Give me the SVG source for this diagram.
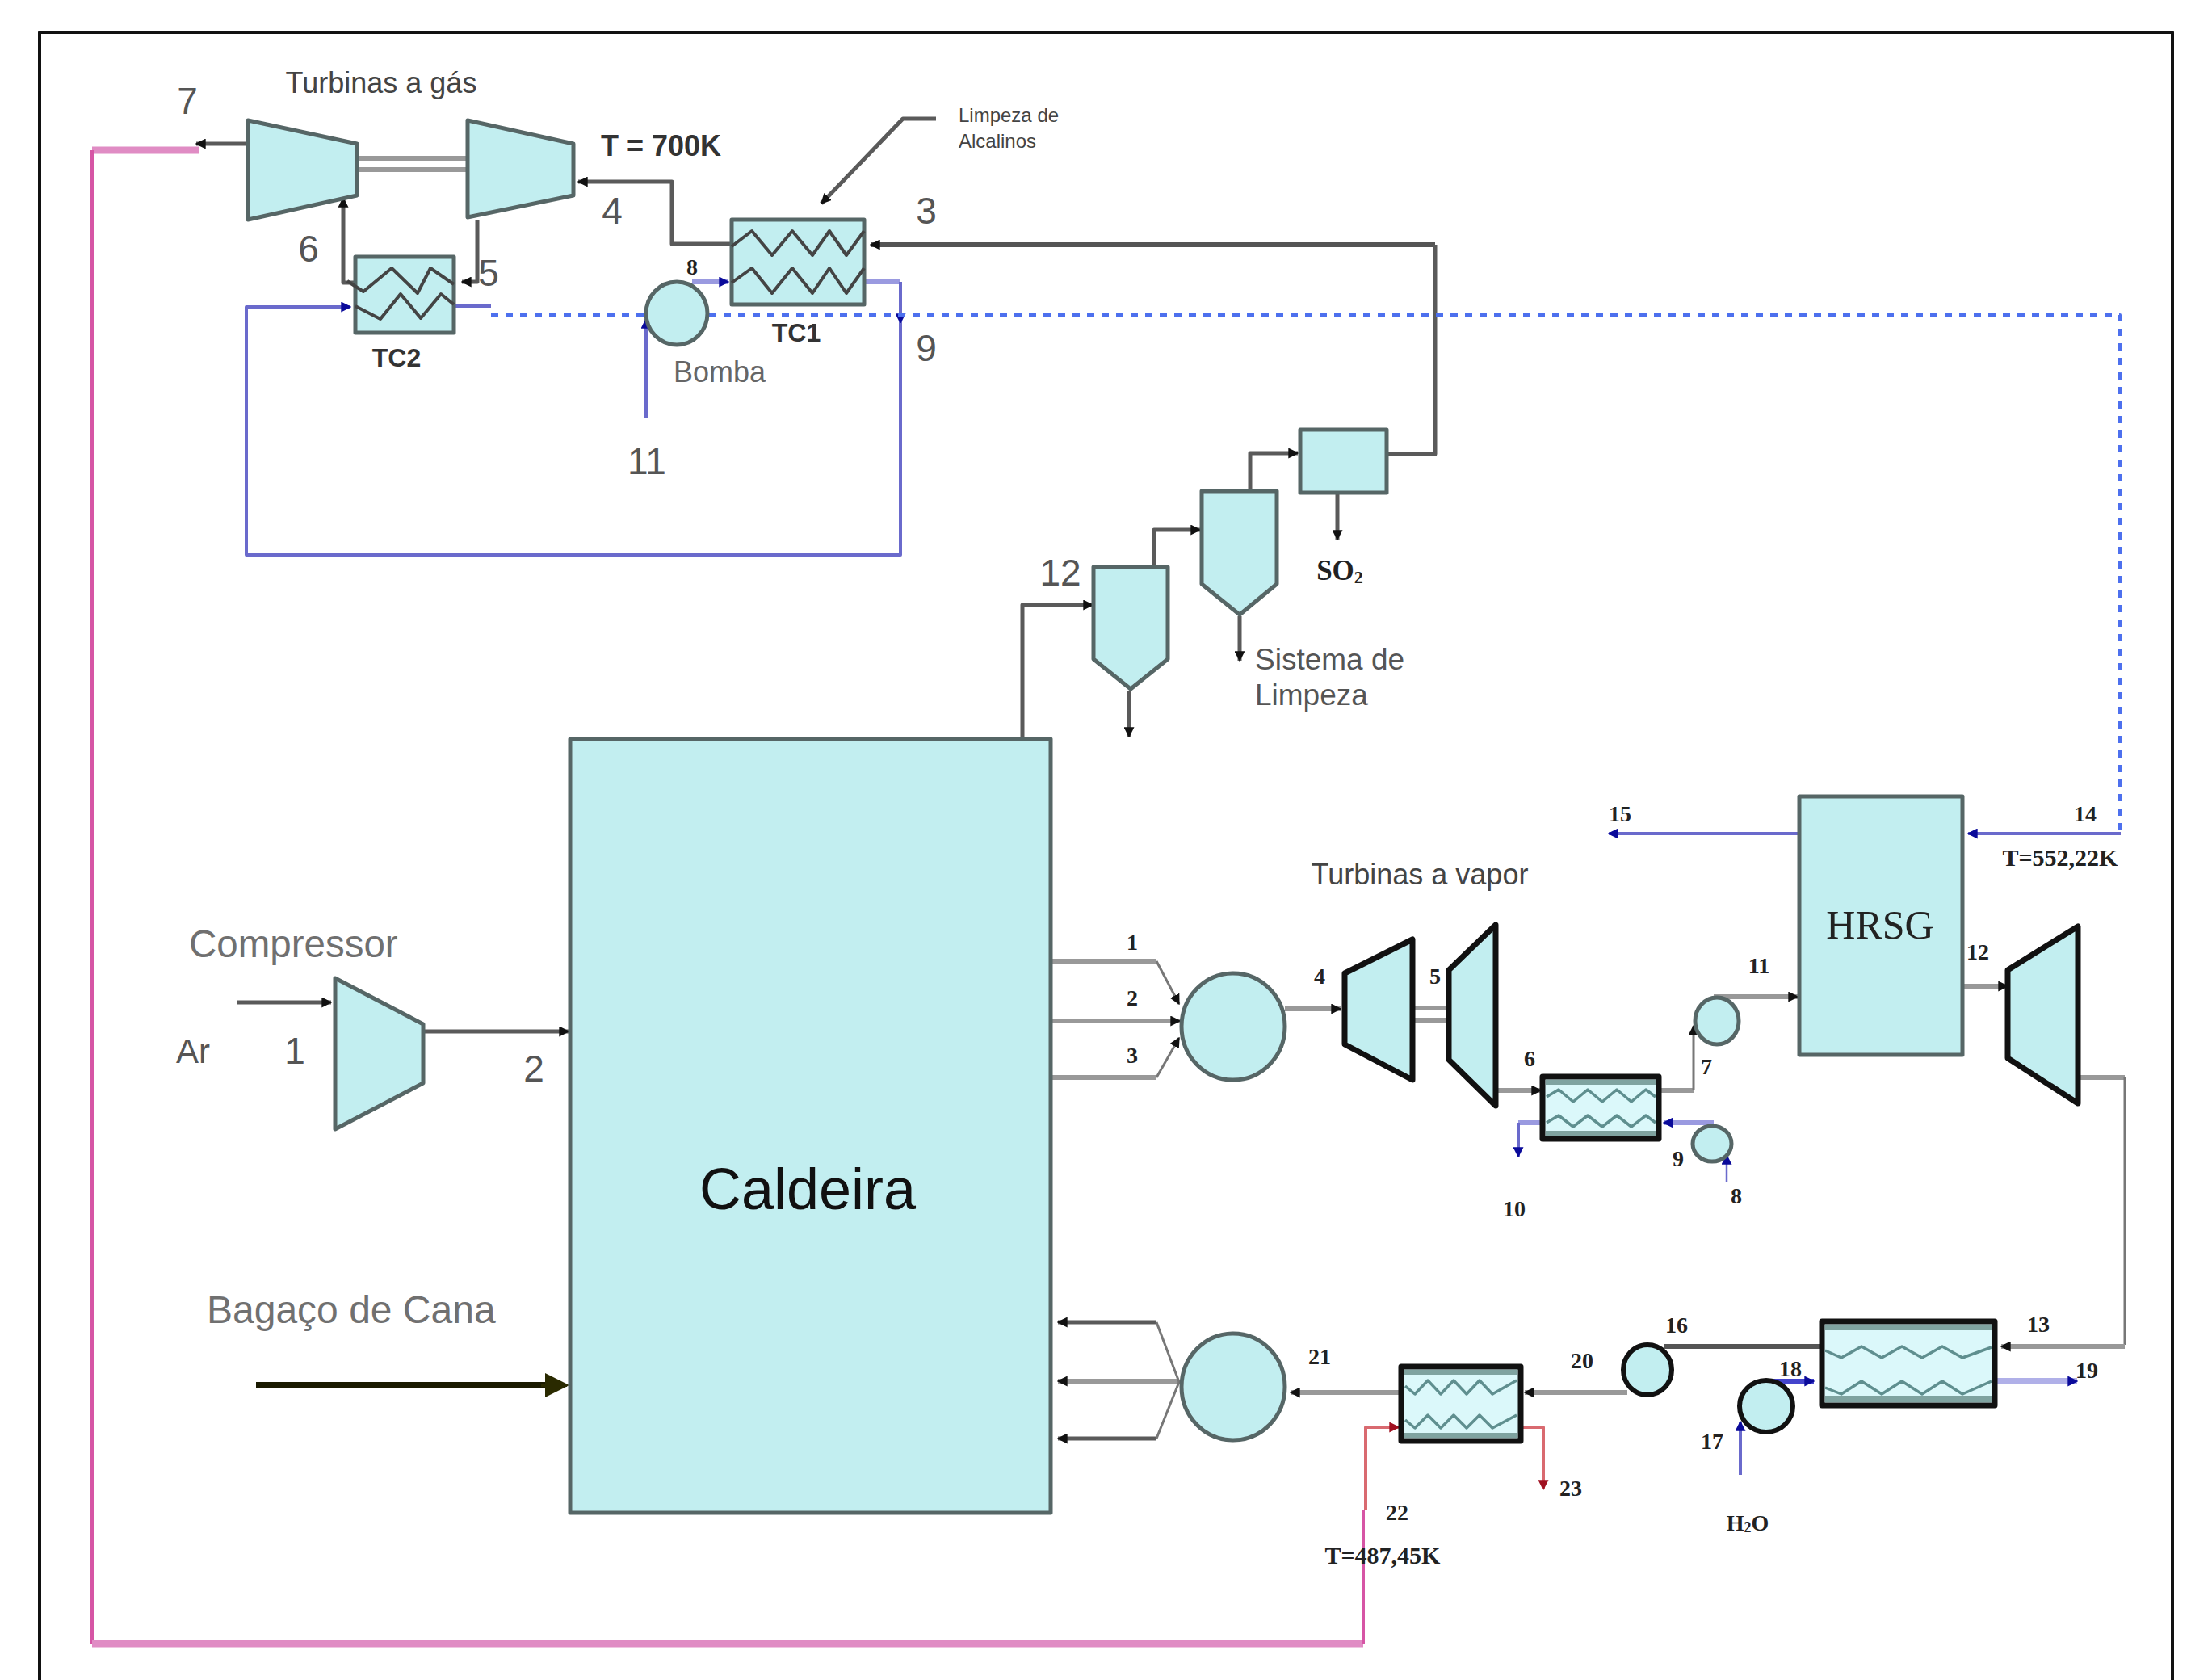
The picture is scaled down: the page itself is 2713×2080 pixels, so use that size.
<svg xmlns="http://www.w3.org/2000/svg" width="2713" height="2080" viewBox="0 0 2713 2080">
<defs>
<marker id="ak" viewBox="0 0 10 10" refX="9" refY="5" markerWidth="13" markerHeight="13" markerUnits="userSpaceOnUse" orient="auto"><path d="M0 0L10 5L0 10z" fill="#111"/></marker>
<marker id="ab" viewBox="0 0 10 10" refX="9" refY="5" markerWidth="13" markerHeight="13" markerUnits="userSpaceOnUse" orient="auto"><path d="M0 0L10 5L0 10z" fill="#0a0a9a"/></marker>
<marker id="ar" viewBox="0 0 10 10" refX="9" refY="5" markerWidth="13" markerHeight="13" markerUnits="userSpaceOnUse" orient="auto"><path d="M0 0L10 5L0 10z" fill="#a01020"/></marker>
<marker id="ao" viewBox="0 0 10 10" refX="9" refY="5" markerWidth="30" markerHeight="30" markerUnits="userSpaceOnUse" orient="auto"><path d="M0 0L10 5L0 10z" fill="#2a2a00"/></marker>
</defs>
<style>
path,polygon,polyline,rect{stroke-linejoin:round}
.eq{fill:#c2eef0;stroke:#566666;stroke-width:5}
.hx{fill:#dbf8fa;stroke:#111;stroke-width:7}
.bt{fill:#c2eef0;stroke:#111;stroke-width:7}
.bp{fill:#c2eef0;stroke:#111;stroke-width:6}
.strip{fill:#7fa3a0;stroke:none}
.z{fill:none;stroke:#444;stroke-width:4}
.w{fill:none;stroke:#5f8f8f;stroke-width:3.5}
.g{fill:none;stroke:#5a5a5a;stroke-width:5}
.gt{fill:none;stroke:#777;stroke-width:3}
.gw{fill:none;stroke:#999;stroke-width:6}
.gd{fill:none;stroke:#555;stroke-width:6}
.b{fill:none;stroke:#6a6acc;stroke-width:4}
.bw{fill:none;stroke:#9a9ae0;stroke-width:6}
.bd{fill:none;stroke:#4d70ee;stroke-width:4;stroke-dasharray:9 9}
.p{fill:none;stroke:#d655a5;stroke-width:4}
.pw{fill:none;stroke:#e08cc4;stroke-width:9}
.r{fill:none;stroke:#d96a70;stroke-width:4}
.s{fill:#444;stroke:none;font-family:"Liberation Sans",Arial,sans-serif}
.m{fill:#707070;stroke:none;font-family:"Liberation Sans",Arial,sans-serif}
.t{fill:#222;stroke:none;font-family:"Liberation Serif","Times New Roman",serif;font-weight:bold;font-size:28px;text-anchor:middle;dominant-baseline:central}
.n{fill:#555;stroke:none;font-family:"Liberation Sans",Arial,sans-serif;font-size:46px;text-anchor:middle;dominant-baseline:central}
.c{text-anchor:middle;dominant-baseline:central}
</style>
<rect width="2713" height="2080" fill="#fff"/>
<path id="frame" d="M49 2080V40H2690V2080" fill="none" stroke="#111" stroke-width="4"/>

<g id="connectors">
<path class="g" d="M307 178H243" marker-end="url(#ak)"/>
<path class="pw" d="M247 186H114"/>
<path class="p" d="M114 186V2035"/>
<path class="pw" d="M114 2035H1688"/>
<path class="p" d="M1688 2035V1869"/>
<path class="r" d="M1691 1869V1767H1732" marker-end="url(#ar)"/>
<path class="r" d="M1883 1767H1911V1844" marker-end="url(#ar)"/>
<path class="gw" d="M442 196H579M442 210H579"/>
<path class="g" d="M906 302H832V225H716" marker-end="url(#ak)"/>
<path class="gd" d="M1777 303H1078" marker-end="url(#ak)"/>
<path class="g" d="M1716 562H1777V303"/>
<path class="g" d="M1159 147H1118L1017 252" marker-end="url(#ak)"/>
<path class="g" d="M591 272V349H572" marker-end="url(#ak)"/>
<path class="g" d="M446 350H425V245" marker-end="url(#ak)"/>
<path class="bw" d="M857 349H902" marker-end="url(#ab)"/>
<path class="bw" d="M1070 349H1115"/>
<path class="b" d="M1115 349V400" marker-end="url(#ab)"/>
<path class="b" d="M1115 400V687H305V380H434" marker-end="url(#ab)"/>
<path class="b" d="M562 379H608"/>
<path class="bd" d="M608 390H2625V1032"/>
<path class="b" d="M2626 1032H2437" marker-end="url(#ab)"/>
<path class="b" d="M2228 1032H1992" marker-end="url(#ab)"/>
<path class="b" style="stroke-width:5" d="M800 518V395" marker-end="url(#ab)"/>
<path class="g" d="M1266 915V749H1353" marker-end="url(#ak)"/>
<path class="g" d="M1429 701V656H1486" marker-end="url(#ak)"/>
<path class="g" d="M1548 609V561H1607" marker-end="url(#ak)"/>
<path class="g" d="M1398 855V912" marker-end="url(#ak)"/>
<path class="g" d="M1535 763V818" marker-end="url(#ak)"/>
<path class="g" d="M1656 609V668" marker-end="url(#ak)"/>
<path class="g" d="M294 1241H410" marker-end="url(#ak)"/>
<path class="g" d="M524 1277H704" marker-end="url(#ak)"/>
<path fill="none" stroke="#1a1a00" stroke-width="8" d="M317 1715H680"/>
<path fill="none" stroke="#2a2a00" stroke-width="4" d="M670 1715H702" marker-end="url(#ao)"/>
<path class="gw" d="M1301 1190H1432"/>
<path class="gt" d="M1432 1190L1460 1243" marker-end="url(#ak)"/>
<path class="gw" d="M1301 1264H1461" marker-end="url(#ak)"/>
<path class="gw" d="M1301 1334H1432"/>
<path class="gt" d="M1432 1334L1460 1285" marker-end="url(#ak)"/>
<path class="gw" d="M1591 1249H1660" marker-end="url(#ak)"/>
<path class="gw" d="M1749 1248H1794M1749 1263H1794"/>
<path class="gw" d="M1852 1350H1908" marker-end="url(#ak)"/>
<path class="gw" d="M2054 1350H2097"/>
<path class="gt" d="M2097 1350V1270" marker-end="url(#ak)"/>
<path class="gw" d="M2122 1234H2226" marker-end="url(#ak)"/>
<path class="gw" d="M2430 1221H2486" marker-end="url(#ak)"/>
<path class="bw" d="M2122 1390H2060" marker-end="url(#ab)"/>
<path class="bw" d="M1910 1390H1880"/>
<path class="b" d="M1880 1390V1432" marker-end="url(#ab)"/>
<path class="b" style="stroke-width:2.5" d="M2138 1463V1430" marker-end="url(#ab)"/>
<path class="gw" d="M2573 1334H2631"/>
<path class="gt" d="M2631 1334V1665"/>
<path class="gw" d="M2631 1667H2478" marker-end="url(#ak)"/>
<path class="gd" d="M2256 1667H2060"/>
<path class="gw" d="M2015 1724H1888" marker-end="url(#ak)"/>
<path class="gw" d="M1735 1724H1598" marker-end="url(#ak)"/>
<path class="bw" style="stroke-width:8;stroke:#b0b0e8" d="M2463 1710H2572" marker-end="url(#ab)"/>
<path class="bw" style="stroke:#4444cc" d="M2192 1710H2246" marker-end="url(#ab)"/>
<path class="b" d="M2155 1826V1760" marker-end="url(#ab)"/>
<path class="g" d="M1432 1637H1310" marker-end="url(#ak)"/>
<path class="gw" d="M1460 1710H1310" marker-end="url(#ak)"/>
<path class="g" d="M1432 1781H1310" marker-end="url(#ak)"/>
<path class="gt" d="M1432 1637L1460 1711L1432 1781"/>
</g>

<g id="turbina-gas-1"><polygon class="eq" points="307,149 442,178 442,242 307,272"/></g>
<g id="turbina-gas-2"><polygon class="eq" points="579,149 710,178 710,242 579,269"/></g>
<g id="tc2"><rect class="eq" x="440" y="318" width="122" height="94"/>
<polyline class="z" points="430,348 450,361 485,332 517,363 533,332 562,352"/>
<polyline class="z" points="440,379 471,395 496,364 521,394 546,364 562,377"/></g>
<g id="tc1"><rect class="eq" x="906" y="272" width="164" height="105"/>
<polyline class="z" points="906,305 931,286 956,316 981,286 1006,316 1027,286 1048,316 1070,286"/>
<polyline class="z" points="906,350 931,332 956,363 981,332 1006,363 1027,332 1048,363 1070,332"/></g>
<g id="bomba"><ellipse class="eq" cx="838" cy="388" rx="38" ry="39"/></g>
<g id="ciclone-1"><polygon class="eq" points="1354,702 1446,702 1446,816 1400,853 1354,816"/></g>
<g id="ciclone-2"><polygon class="eq" points="1488,608 1581,608 1581,723 1535,761 1488,723"/></g>
<g id="filtro"><rect class="eq" x="1610" y="532" width="107" height="78"/></g>
<g id="caldeira"><rect class="eq" x="706" y="915" width="595" height="958"/></g>
<g id="compressor"><polygon class="eq" points="415,1211 524,1268 524,1341 415,1398"/></g>
<g id="misturador-1"><ellipse class="eq" cx="1527" cy="1271" rx="64" ry="66"/></g>
<g id="misturador-2"><ellipse class="eq" cx="1527" cy="1717" rx="64" ry="66"/></g>
<g id="turbina-vapor-1"><polygon class="bt" points="1665,1205 1749,1163 1749,1337 1665,1293"/></g>
<g id="turbina-vapor-2"><polygon class="bt" points="1794,1201 1852,1145 1852,1369 1794,1312"/></g>
<g id="turbina-vapor-3"><polygon class="bt" points="2486,1201 2573,1147 2573,1366 2486,1310"/></g>
<g id="hx-6"><rect class="hx" x="1910" y="1333" width="144" height="77"/><rect class="strip" x="1914" y="1337" width="136" height="6"/><rect class="strip" x="1914" y="1400" width="136" height="6"/>
<polyline class="w" points="1915,1358 1930,1349 1948,1364 1966,1349 1984,1364 2002,1349 2020,1364 2038,1349 2050,1358"/>
<polyline class="w" points="1915,1390 1930,1381 1948,1395 1966,1381 1984,1395 2002,1381 2020,1395 2038,1381 2050,1390"/></g>
<g id="bomba-7"><ellipse class="eq" cx="2126" cy="1264" rx="27" ry="29"/></g>
<g id="bomba-9"><ellipse class="eq" cx="2120" cy="1416" rx="24" ry="22"/></g>
<g id="hrsg"><rect class="eq" x="2228" y="986" width="202" height="320"/></g>
<g id="hx-13"><rect class="hx" x="2256" y="1636" width="214" height="104"/><rect class="strip" x="2260" y="1640" width="206" height="7"/><rect class="strip" x="2260" y="1728" width="206" height="8"/>
<polyline class="w" points="2260,1672 2280,1681 2305,1667 2330,1681 2355,1667 2380,1681 2405,1667 2430,1681 2466,1668"/>
<polyline class="w" points="2260,1718 2280,1726 2305,1710 2330,1726 2355,1710 2380,1726 2405,1710 2430,1726 2466,1710"/></g>
<g id="bomba-16"><ellipse class="bp" cx="2040" cy="1696" rx="30" ry="31"/></g>
<g id="bomba-18"><ellipse class="bp" cx="2187" cy="1741" rx="33" ry="32"/></g>
<g id="hx-20"><rect class="hx" x="1735" y="1692" width="148" height="92"/><rect class="strip" x="1739" y="1696" width="140" height="6"/><rect class="strip" x="1739" y="1774" width="140" height="6"/>
<polyline class="w" points="1740,1716 1752,1726 1768,1709 1784,1726 1800,1709 1816,1726 1832,1709 1848,1726 1878,1709"/>
<polyline class="w" points="1740,1758 1752,1768 1768,1752 1784,1768 1800,1752 1816,1768 1832,1752 1848,1768 1878,1752"/></g>

<g id="labels">
<text class="s c" x="472" y="102" font-size="36">Turbinas a gás</text>
<text class="n" x="232" y="125">7</text>
<text class="s" x="744" y="193" font-size="36" font-weight="bold" style="fill:#333">T = 700K</text>
<text class="n" x="758" y="261">4</text>
<text class="n" x="1147" y="261">3</text>
<text class="n" x="382" y="308">6</text>
<text class="n" x="605" y="338">5</text>
<text class="s" x="491" y="443" font-size="32" font-weight="bold" text-anchor="middle" dominant-baseline="central" style="fill:#333">TC2</text>
<text class="s" x="986" y="412" font-size="32" font-weight="bold" text-anchor="middle" dominant-baseline="central" style="fill:#333">TC1</text>
<text class="t" x="857" y="330">8</text>
<text class="s c" x="891" y="460" font-size="36" style="fill:#666">Bomba</text>
<text class="n" x="1147" y="431">9</text>
<text class="n" x="801" y="571">11</text>
<text class="n" x="1313" y="709">12</text>
<text class="s" x="1187" y="151" font-size="24">Limpeza de</text>
<text class="s" x="1187" y="183" font-size="24">Alcalinos</text>
<text class="t" x="1659" y="706" style="font-size:35px">SO<tspan font-size="22" dy="8">2</tspan></text>
<text class="s" x="1554" y="829" font-size="37" style="fill:#555">Sistema de</text>
<text class="s" x="1554" y="873" font-size="37" style="fill:#555">Limpeza</text>
<text class="m" x="234" y="1185" font-size="47.5">Compressor</text>
<text class="n" x="239" y="1301" style="font-size:42px">Ar</text>
<text class="n" x="365" y="1301">1</text>
<text class="n" x="661" y="1323">2</text>
<text class="m" x="256" y="1638" font-size="48">Bagaço de Cana</text>
<text class="s c" x="1000" y="1472" font-size="72" style="fill:#111">Caldeira</text>
<text class="s c" x="1758" y="1082" font-size="36">Turbinas a vapor</text>
<text class="t" x="1402" y="1166">1</text><text class="t" x="1402" y="1235">2</text><text class="t" x="1402" y="1306">3</text>
<text class="t" x="1634" y="1208">4</text><text class="t" x="1777" y="1208">5</text><text class="t" x="1894" y="1310">6</text>
<text class="t" x="2113" y="1320">7</text><text class="t" x="2150" y="1480">8</text><text class="t" x="2078" y="1434">9</text>
<text class="t" x="1875" y="1496">10</text><text class="t" x="2178" y="1195">11</text><text class="t" x="2449" y="1178">12</text>
<text class="t" x="2524" y="1639">13</text><text class="t" x="2582" y="1007">14</text><text class="t" x="2006" y="1007">15</text>
<text class="t" x="2076" y="1640">16</text><text class="t" x="2120" y="1784">17</text><text class="t" x="2217" y="1694">18</text>
<text class="t" x="2584" y="1696">19</text><text class="t" x="1959" y="1684">20</text><text class="t" x="1634" y="1679">21</text>
<text class="t" x="1730" y="1872">22</text><text class="t" x="1945" y="1842">23</text>
<text class="t" x="2551" y="1061" style="font-size:30px">T=552,22K</text>
<text class="t" x="1712" y="1925" style="font-size:30px">T=487,45K</text>
<text class="t" x="2164" y="1885">H<tspan font-size="18" dy="6">2</tspan><tspan dy="-6">O</tspan></text>
<text x="2328" y="1145" fill="#222" font-family="'Liberation Serif','Times New Roman',serif" font-size="50" text-anchor="middle" dominant-baseline="central">HRSG</text>
</g>
</svg>
